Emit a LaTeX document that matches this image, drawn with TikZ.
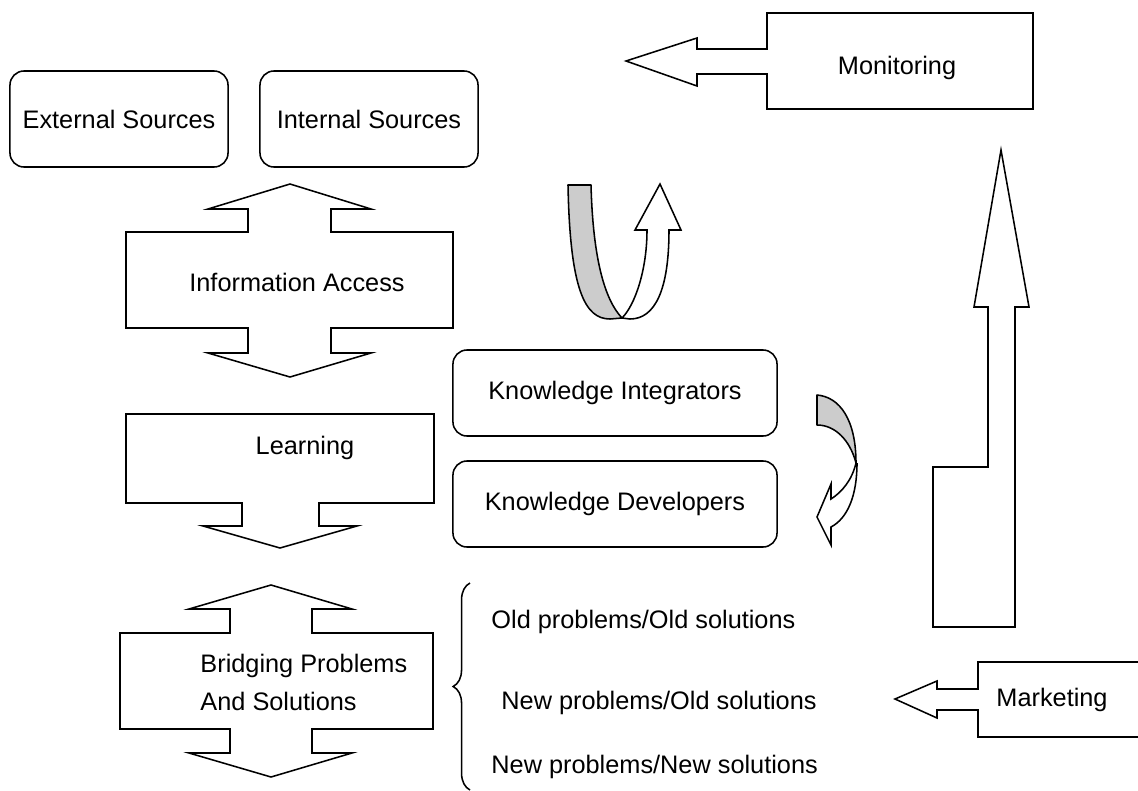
\documentclass[tikz,border=0pt]{standalone}
\usepackage{fontspec}
\setmainfont{Liberation Sans}
\usetikzlibrary{decorations.pathreplacing}

\begin{document}
\begin{tikzpicture}[x=0.025cm,y=-0.025cm,line width=1.1pt,
    every node/.style={font=\fontsize{18}{27}\selectfont},
    srcbox/.style={draw,rounded corners=10pt,minimum width=5.45cm,minimum height=2.4cm},
    knowbox/.style={draw,rounded corners=10pt,minimum width=8.1cm,minimum height=2.15cm},
    ribbon/.style={draw,fill=gray!40,line join=round},
    blockarrow/.style={draw,line join=miter}]
			\useasboundingbox (0,0) rectangle (1138,790);
			\node[srcbox] (ext) at (119,119) {External Sources};
			\node[srcbox] (int) at (369,119) {Internal Sources};
			\draw[blockarrow] (126,232) -- (248,232) -- (248,209) -- (208,209) -- (290,184) -- (371,209) -- (331,209) -- (331,232) -- (453,232) -- (453,328) -- (331,328) -- (331,353) -- (371,353) -- (290,377) -- (208,353) -- (248,353) -- (248,328) -- (126,328) -- cycle;
			\node (access) at (297,282) {Information Access};
			\draw[blockarrow] (126,414) -- (434,414) -- (434,503) -- (319,503) -- (319,526) -- (357,526) -- (280,548) -- (203,526) -- (242,526) -- (242,503) -- (126,503) -- cycle;
			\node (learn) at (305,448) {Learning};
			\draw[blockarrow] (120,633) -- (230,633) -- (230,609) -- (189,609) -- (271,585) -- (352,609) -- (312,609) -- (312,633) -- (433,633) -- (433,729) -- (312,729) -- (312,753) -- (352,753) -- (271,777) -- (189,753) -- (230,753) -- (230,729) -- (120,729) -- cycle;
			\node[anchor=west,align=left] (bridge) at (195,682) {Bridging Problems\\And Solutions};
			\node[knowbox] (integ) at (615,393) {Knowledge Integrators};
			\node[knowbox] (devel) at (615,504) {Knowledge Developers};
			% curved arrows
			\draw[ribbon] (568,185) -- (591,185) .. controls (593,260) and (605,300) .. (622,318) -- (610,319) .. controls (585,319) and (570,290) .. (568,185) -- cycle;
			\draw[blockarrow,fill=white] (622,318) .. controls (635,305) and (647,270) .. (647,230) -- (635,230) -- (660,184) -- (681,230) -- (669,230) .. controls (669,290) and (655,319) .. (630,319) -- cycle;
			\draw[ribbon] (817,395) .. controls (840,397) and (856,420) .. (856,463) .. controls (850,440) and (835,425) .. (817,425) -- cycle;
			\draw[blockarrow,fill=white] (856,463) .. controls (852,480) and (842,492) .. (831,499) -- (831,484) -- (817,517) -- (831,545) -- (831,527) .. controls (848,518) and (857,495) .. (857,463);
			% right side
			\draw[blockarrow] (1033,13) -- (767,13) -- (767,49) -- (697,49) -- (697,38) -- (626,61) -- (697,86) -- (697,74) -- (767,74) -- (767,109) -- (1033,109) -- cycle;
			\node (monit) at (897,68) {Monitoring};
			\draw[blockarrow] (933,627) -- (1015,627) -- (1015,307) -- (1029,307) -- (1001,150) -- (974,307) -- (988,307) -- (988,467) -- (933,467) -- cycle;
			\draw[blockarrow] (1138,662) -- (978,662) -- (978,689) -- (937,689) -- (937,681) -- (895,699) -- (937,718) -- (937,710) -- (978,710) -- (978,737) -- (1138,737);
			\node (market) at (1052,700) {Marketing};
			\draw[decorate,decoration={brace,amplitude=12pt}] (470,790) -- (470,583);
			\node[anchor=west] (oldold) at (486,622) {Old problems/Old solutions};
			\node[anchor=west] (newold) at (496,703) {New problems/Old solutions};
			\node[anchor=west] (newnew) at (486,767) {New problems/New solutions};
		\end{tikzpicture}
\end{document}
